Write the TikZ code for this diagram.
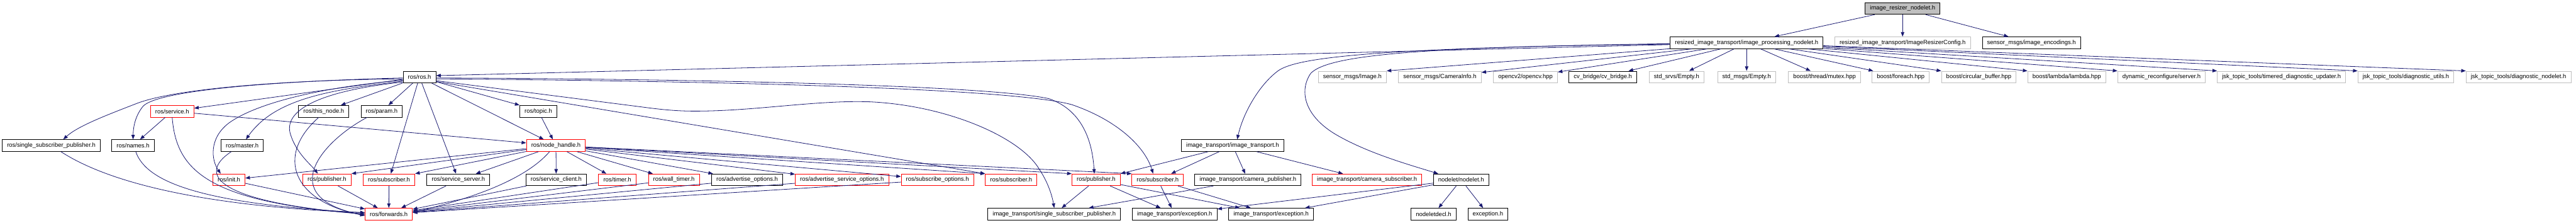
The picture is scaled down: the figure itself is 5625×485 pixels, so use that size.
\documentclass[tikz,border=0pt]{standalone}
\usepackage{fontspec}
\setmainfont{Liberation Sans}
\usetikzlibrary{arrows.meta}
\definecolor{depblue}{HTML}{191970}
\definecolor{grey75}{HTML}{BFBFBF}

\begin{document}
\begin{tikzpicture}[x=1pt, y=-1pt, font=\fontsize{13}{15}\selectfont,
  hfile/.style={draw=black, line width=1.2pt, rectangle, inner xsep=10.5pt,
    inner ysep=0pt, minimum height=25.5pt},
  hred/.style={hfile, draw=red},
  hgrey/.style={hfile, draw=grey75},
  hroot/.style={hfile, fill=grey75},
  dep/.style={draw=depblue, line width=1.1pt, -{Triangle[length=10pt,width=7.5pt]}}]
  \useasboundingbox (0,0) rectangle (5625,485);
  % rank 0 and 1: the nodelet and what it includes directly
  \node[hroot] (root) at (4154.5,18.5) {image\_resizer\_nodelet.h};
  \node[hfile] (ipn) at (3814,93.2) {resized\_image\_transport/image\_processing\_nodelet.h};
  \node[hgrey] (cfg) at (4154.5,93.2) {resized\_image\_transport/ImageResizerConfig.h};
  \node[hfile] (enc) at (4436,93.2) {sensor\_msgs/image\_encodings.h};
  % rank 2
  \node[hfile] (ros) at (916,167.9) {ros/ros.h};
  \node[hgrey] (img) at (2953,167.9) {sensor\_msgs/Image.h};
  \node[hgrey] (caminfo) at (3144,167.9) {sensor\_msgs/CameraInfo.h};
  \node[hgrey] (opencv) at (3331,167.9) {opencv2/opencv.hpp};
  \node[hfile] (cvb) at (3500,167.9) {cv\_bridge/cv\_bridge.h};
  \node[hgrey] (srv) at (3661,167.9) {std\_srvs/Empty.h};
  \node[hgrey] (msg) at (3814,167.9) {std\_msgs/Empty.h};
  \node[hgrey] (mutex) at (3984,167.9) {boost/thread/mutex.hpp};
  \node[hgrey] (bforeach) at (4150.5,167.9) {boost/foreach.hpp};
  \node[hgrey] (cbuf) at (4321,167.9) {boost/circular\_buffer.hpp};
  \node[hgrey] (lambda) at (4513,167.9) {boost/lambda/lambda.hpp};
  \node[hgrey] (dynrec) at (4720,167.9) {dynamic\_reconfigure/server.h};
  \node[hgrey] (tdu) at (4982,167.9) {jsk\_topic\_tools/timered\_diagnostic\_updater.h};
  \node[hgrey] (dutil) at (5253.5,167.9) {jsk\_topic\_tools/diagnostic\_utils.h};
  \node[hgrey] (dnode) at (5499.5,167.9) {jsk\_topic\_tools/diagnostic\_nodelet.h};
  % rank 3
  \node[hred] (service) at (376,242.6) {ros/service.h};
  \node[hfile] (thisnode) at (707,242.6) {ros/this\_node.h};
  \node[hfile] (param) at (833.5,242.6) {ros/param.h};
  \node[hfile] (topic) at (1175.5,242.6) {ros/topic.h};
  % rank 4
  \node[hfile] (rssp) at (112,317.3) {ros/single\_subscriber\_publisher.h};
  \node[hfile] (names) at (290.5,317.3) {ros/names.h};
  \node[hfile] (master) at (529,317.3) {ros/master.h};
  \node[hred] (nh) at (1214,317.3) {ros/node\_handle.h};
  \node[hfile] (it) at (2691.5,317.3) {image\_transport/image\_transport.h};
  % rank 5
  \node[hred] (init) at (500,392) {ros/init.h};
  \node[hred] (pubA) at (714,392) {ros/publisher.h};
  \node[hred] (subA) at (849.5,392) {ros/subscriber.h};
  \node[hfile] (ssrv) at (1001,392) {ros/service\_server.h};
  \node[hfile] (scli) at (1214.5,392) {ros/service\_client.h};
  \node[hred] (timer) at (1348,392) {ros/timer.h};
  \node[hred] (wtimer) at (1471.5,392) {ros/wall\_timer.h};
  \node[hfile] (advopt) at (1631.5,392) {ros/advertise\_options.h};
  \node[hred] (advsrv) at (1838.5,392) {ros/advertise\_service\_options.h};
  \node[hred] (subopt) at (2047,392) {ros/subscribe\_options.h};
  \node[hred] (subB) at (2208,392) {ros/subscriber.h};
  \node[hred] (pubB) at (2393.5,392) {ros/publisher.h};
  \node[hred] (subC) at (2528,392) {ros/subscriber.h};
  \node[hfile] (campub) at (2725,392) {image\_transport/camera\_publisher.h};
  \node[hred] (camsub) at (2985,392) {image\_transport/camera\_subscriber.h};
  \node[hfile] (nodelet) at (3190.5,392) {nodelet/nodelet.h};
  % rank 6
  \node[hred] (fwd) at (849,466.7) {ros/forwards.h};
  \node[hfile] (itssp) at (2302,466.7) {image\_transport/single\_subscriber\_publisher.h};
  \node[hfile] (excA) at (2565,466.7) {image\_transport/exception.h};
  \node[hfile] (excB) at (2775.5,466.7) {image\_transport/exception.h};
  \node[hfile] (decl) at (3130.5,466.7) {nodeletdecl.h};
  \node[hfile] (exc) at (3249,466.7) {exception.h};

  % straight edges
  \foreach \a/\b in {root/ipn, root/cfg, root/enc,
      ipn/caminfo, ipn/opencv, ipn/cvb, ipn/srv, ipn/msg, ipn/mutex, ipn/bforeach,
      ipn/img.north east, ipn/cbuf.north west, ipn/lambda.north west,
      ipn/dynrec.north west, ipn/tdu.north west, ipn/dutil.north west,
      ipn/dnode.north west}
    \draw[dep] (\a) -- (\b);
  \foreach \b in {service, thisnode, param, subA, ssrv, nh, topic.north west}
    \draw[dep] (ros) -- (\b);
  \foreach \b in {init, ssrv, scli, timer, wtimer, advopt, advsrv, subopt,
      pubA.north east, subA.north east, subB.north west, pubB.north west,
      subC.north west}
    \draw[dep] (nh) -- (\b);
  \foreach \a in {init, pubA, subA, ssrv, scli, timer, wtimer, advopt, advsrv, subopt}
    \draw[dep] (\a) -- (fwd);
  \foreach \a/\b in {service/names, service/nh, topic/nh,
      it/pubB.north east, it/subC, it/campub, it/camsub,
      pubB/itssp, pubB/excA, pubB/excB, subC/excA, subC/excB, campub/itssp,
      nodelet/excA, nodelet/excB, nodelet/decl, nodelet/exc}
    \draw[dep] (\a) -- (\b);

  % ros.h fans out to the left
  \draw[dep] ([yshift=-4pt]ros.west) .. controls (600,175) and (380,195) .. (300,225)
    .. controls (230,252) and (170,275) .. ([xshift=26pt]rssp.north);
  \draw[dep] ([yshift=-2pt]ros.west) .. controls (560,178) and (340,200) .. (312,232)
    .. controls (296,252) and (291,275) .. (names.north);
  \draw[dep] ([yshift=-7pt]ros.west) .. controls (700,190) and (560,225) .. (500,268)
    .. controls (455,302) and (462,350) .. ([xshift=-18pt]init.north);
  \draw[dep] ([yshift=-9pt]ros.west) .. controls (720,196) and (600,215) .. ([xshift=8pt]master.north);
  \draw[dep] ([yshift=-11pt]ros.west) .. controls (700,198) and (615,240) .. (635,295)
    .. controls (648,335) and (680,360) .. ([xshift=-20pt]pubA.north);
  % ... and to the right
  \draw[dep] ([yshift=-2pt]ros.east) .. controls (1500,172) and (2150,185) .. (2290,215)
    .. controls (2370,242) and (2386,320) .. ([xshift=-4pt]pubB.north);
  \draw[dep] ([yshift=-4pt]ros.east) .. controls (1500,176) and (2200,190) .. (2340,228)
    .. controls (2440,262) and (2500,320) .. ([xshift=-10pt]subC.north);
  \draw[dep] ([yshift=-8pt]ros.east) -- (1400,233)
    .. controls (1460,241) and (1490,243) .. (1540,242)
    .. controls (1660,240) and (1790,218) .. (1900,222)
    .. controls (2070,230) and (2230,300) .. (2270,370)
    .. controls (2290,400) and (2298,430) .. (itssp.north);
  \draw[dep] ([yshift=-10pt]ros.east) -- (subB.north west);

  % into forwards.h
  \draw[dep] ([xshift=21pt]rssp.south) .. controls (240,400) and (450,450) .. ([yshift=3pt]fwd.west);
  \draw[dep] ([xshift=6pt]names.south) .. controls (320,400) and (450,445) .. ([yshift=3pt]fwd.west);
  \draw[dep] (service.south) .. controls (385,370) and (450,440) .. (fwd.west);
  \draw[dep] ([xshift=-24pt]master.south) .. controls (430,380) and (470,440) .. (fwd.west);
  \draw[dep] ([xshift=-11pt]thisnode.south) .. controls (600,340) and (640,440) .. ([yshift=-3pt]fwd.west);
  \draw[dep] ([xshift=-32pt]param.south) .. controls (700,310) and (600,430) .. ([yshift=-3pt]fwd.west);
  \draw[dep] ([xshift=-14pt]nh.south) .. controls (1140,400) and (1000,440) .. ([yshift=4pt]fwd.east);

  % long edges out of image_processing_nodelet.h
  \draw[dep] ([yshift=-4pt]ipn.west) -- ([yshift=3pt]ros.east);
  \draw[dep] ([yshift=-2pt]ipn.west) .. controls (3000,105) and (2830,125) .. (2790,155)
    .. controls (2750,185) and (2715,245) .. ([xshift=10pt]it.north);
  \draw[dep] ([yshift=-3pt]ipn.west) .. controls (3100,102) and (2900,120) .. (2862,160)
    .. controls (2835,200) and (2850,255) .. (2920,295)
    .. controls (2990,335) and (3080,360) .. ([xshift=-50pt]nodelet.north);
\end{tikzpicture}
\end{document}
